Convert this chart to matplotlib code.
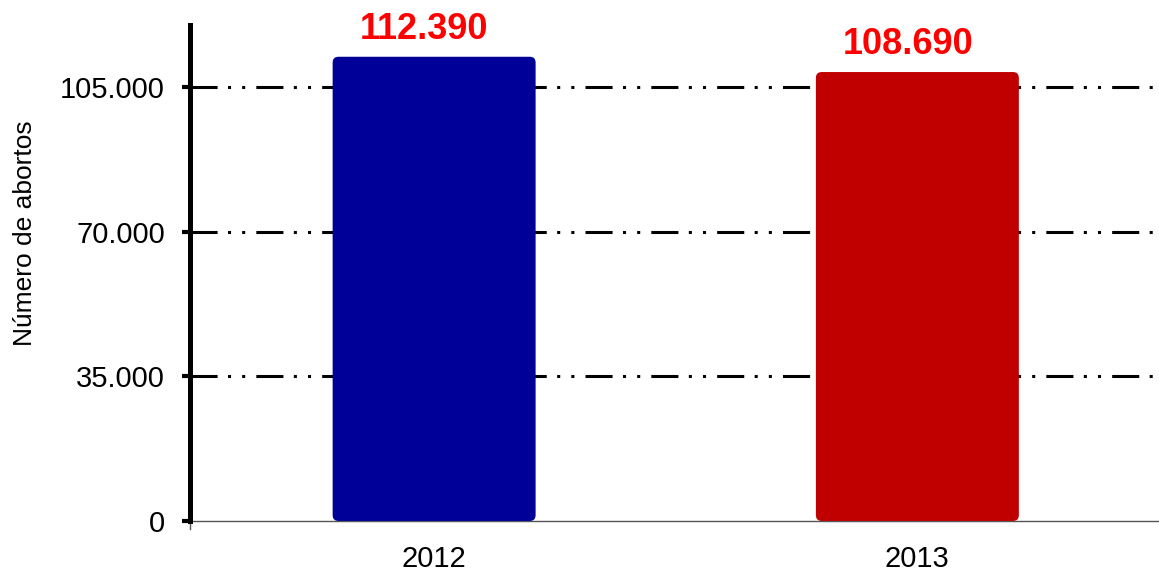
import matplotlib.pyplot as plt
from matplotlib.patches import FancyBboxPatch
from matplotlib.ticker import FuncFormatter

plt.rcParams['font.family'] = ['Liberation Sans', 'DejaVu Sans']
plt.rcParams['lines.scale_dashes'] = False

# Datos
anios = ['2012', '2013']
abortos = [112390, 108690]
colores = ['#000099', '#C00000']
etiquetas = ['112.390', '108.690']
ticks_y = [0, 35000, 70000, 105000]

fig = plt.figure(figsize=(11.59, 5.73), dpi=100)
ax = fig.add_axes([0.164, 0.0908, 0.836, 0.865])

x = list(range(len(anios)))
barras = ax.bar(x, abortos, width=0.42, color=colores, zorder=3)

# esquinas redondeadas
for b, c in zip(barras, colores):
    b.set_visible(False)
    r = FancyBboxPatch((b.get_x(), 0), b.get_width(), b.get_height(),
                       boxstyle='round,pad=0,rounding_size=0.012',
                       mutation_aspect=117000, facecolor=c, edgecolor='none', zorder=3)
    ax.add_patch(r)

for xi, v, t in zip(x, abortos, etiquetas):
    ax.annotate(t, (xi, v), xytext=(-7, 7), textcoords='offset points',
                ha='center', va='bottom', color='#FF0000', fontsize=26, fontweight='bold')

ax.set_xlim(-0.505, 1.5)
ax.set_ylim(0, 120000)
ax.set_yticks(ticks_y)
ax.yaxis.set_major_formatter(FuncFormatter(lambda v, p: f'{int(v):,}'.replace(',', '.')))
ax.set_xticks(x)
ax.set_xticklabels(anios, fontsize=21)
ax.tick_params(axis='y', labelsize=21, length=6, width=3, pad=12)
ax.tick_params(axis='x', length=0, pad=17)
ax.set_ylabel('Número de abortos', fontsize=19)
ax.yaxis.set_label_coords(-0.158, 0.58)

for y in ticks_y[1:]:
    ax.axhline(y, color='black', lw=2.2, dashes=(19.5, 7.5, 2.2, 8, 2.2, 8), zorder=1)

for s in ['top', 'right']:
    ax.spines[s].set_visible(False)
ax.spines['left'].set_linewidth(3.6)
ax.spines['left'].set_zorder(4)
ax.spines['bottom'].set_linewidth(1.0)
ax.spines['bottom'].set_color('#555555')
ax.plot([-0.505, -0.505], [0, -2000], color='#555555', lw=1, clip_on=False)

plt.savefig('out.png', dpi=100)
